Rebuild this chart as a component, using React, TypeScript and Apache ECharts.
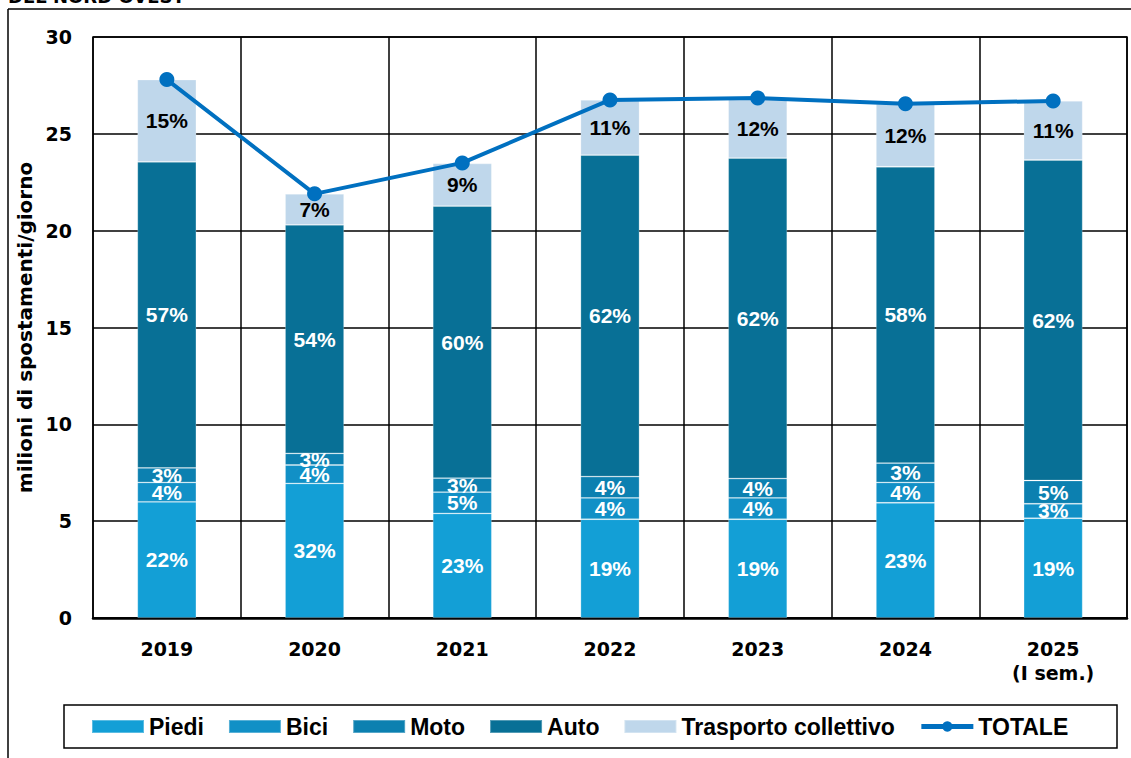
import React, { useEffect, useRef } from "react";
import * as echarts from "echarts";

const categories = ["2019", "2020", "2021", "2022", "2023", "2024", "2025\n(I sem.)"];
const piedi = [6.0, 6.95, 5.4, 5.1, 5.1, 5.95, 5.15];
const bici = [1.0, 0.95, 1.1, 1.1, 1.1, 1.05, 0.75];
const moto = [0.75, 0.6, 0.72, 1.1, 1.0, 1.0, 1.2];
const auto = [15.8, 11.8, 14.05, 16.6, 16.55, 15.3, 16.55];
const trasporto = [4.25, 1.6, 2.2, 2.85, 3.1, 3.25, 3.05];
const totale = [27.8, 21.9, 23.5, 26.75, 26.85, 26.55, 26.7];

const piediPct = ["22%", "32%", "23%", "19%", "19%", "23%", "19%"];
const biciPct = ["4%", "4%", "5%", "4%", "4%", "4%", "3%"];
const motoPct = ["3%", "3%", "3%", "4%", "4%", "3%", "5%"];
const autoPct = ["57%", "54%", "60%", "62%", "62%", "58%", "62%"];
const trasportoPct = ["15%", "7%", "9%", "11%", "12%", "12%", "11%"];

const yTicks = { min: 0, max: 30, interval: 5 };

const labelFont = "'Liberation Sans', Arial, sans-serif";
const axisFont = "'DejaVu Sans', sans-serif";

function barSeries(name: string, data: number[], pct: string[], color: string, labelColor: string) {
  return {
    name,
    type: "bar",
    stack: "tot",
    barWidth: 59,
    data,
    itemStyle: { color, borderColor: "rgba(255,255,255,0.3)", borderWidth: 0.8 },
    label: {
      show: true,
      position: "inside",
      formatter: (p: any) => pct[p.dataIndex],
      color: labelColor,
      fontFamily: labelFont,
      fontWeight: "bold",
      fontSize: 21,
    },
    emphasis: { disabled: true },
  };
}

export default function App() {
  const ref = useRef<HTMLDivElement>(null);
  useEffect(() => {
    if (!ref.current) return;
    const chart = echarts.init(ref.current, undefined, { renderer: "svg" });
    chart.setOption({
      animation: false,
      backgroundColor: "#fff",
      grid: { left: 93, right: 4, top: 37, bottom: 140, show: true, borderColor: "#000", borderWidth: 1.5 },
      legend: {
        left: 91,
        top: 715,
        padding: 0,
        itemWidth: 52,
        itemHeight: 13,
        itemGap: 24,
        textStyle: { fontFamily: labelFont, fontWeight: "bold", fontSize: 23, color: "#000" },
        data: [
          { name: "Piedi", icon: "rect" },
          { name: "Bici", icon: "rect" },
          { name: "Moto", icon: "rect" },
          { name: "Auto", icon: "rect" },
          { name: "Trasporto collettivo", icon: "rect" },
          { name: "TOTALE", lineStyle: { width: 5, color: "#0070C0" }, itemStyle: { color: "#0070C0" } },
        ],
      },
      xAxis: {
        type: "category",
        data: categories,
        boundaryGap: true,
        axisLine: { lineStyle: { color: "#000", width: 2.5 } },
        axisTick: { show: false },
        splitLine: { show: true, lineStyle: { color: "#000", width: 1.5 } },
        axisLabel: {
          margin: 19,
          color: "#000",
          fontFamily: axisFont,
          fontWeight: "bold",
          fontSize: 19,
          lineHeight: 24,
          interval: 0,
        },
      },
      yAxis: {
        type: "value",
        min: yTicks.min,
        max: yTicks.max,
        interval: yTicks.interval,
        name: "milioni di spostamenti/giorno",
        nameLocation: "middle",
        nameGap: 56,
        nameTextStyle: { fontFamily: axisFont, fontWeight: "bold", fontSize: 20, color: "#000" },
        axisLine: { show: false },
        axisTick: { show: false },
        splitLine: { show: true, lineStyle: { color: "#000", width: 1.5 } },
        axisLabel: { margin: 21, color: "#000", fontFamily: axisFont, fontWeight: "bold", fontSize: 19 },
      },
      series: [
        barSeries("Piedi", piedi, piediPct, "#139FD6", "#fff"),
        barSeries("Bici", bici, biciPct, "#1190C6", "#fff"),
        barSeries("Moto", moto, motoPct, "#0C80B0", "#fff"),
        barSeries("Auto", auto, autoPct, "#087096", "#fff"),
        barSeries("Trasporto collettivo", trasporto, trasportoPct, "#BFD7EB", "#000"),
        {
          name: "TOTALE",
          type: "line",
          data: totale,
          z: 10,
          symbol: "circle",
          symbolSize: 15,
          lineStyle: { color: "#0070C0", width: 4 },
          itemStyle: { color: "#0070C0" },
          emphasis: { disabled: true },
        },
      ],
      graphic: [
        {
          type: "text",
          left: 8,
          top: -13,
          style: { text: "DEL NORD OVEST", fontFamily: axisFont, fontWeight: "bold", fontSize: 18, fill: "#000" },
        },
        { type: "line", shape: { x1: 8, y1: 9, x2: 1131, y2: 9 }, style: { stroke: "#000", lineWidth: 1.5 } },
        { type: "line", shape: { x1: 8, y1: 9, x2: 8, y2: 758 }, style: { stroke: "#000", lineWidth: 1.5 } },
        {
          type: "rect",
          shape: { x: 64, y: 705, width: 1053, height: 43 },
          style: { fill: "none", stroke: "#000", lineWidth: 1.5 },
          z: -1,
        },
      ],
    });
    return () => chart.dispose();
  }, []);
  return <div ref={ref} style={{ position: "absolute", left: 0, top: 0, width: 1131, height: 758 }} />;
}
